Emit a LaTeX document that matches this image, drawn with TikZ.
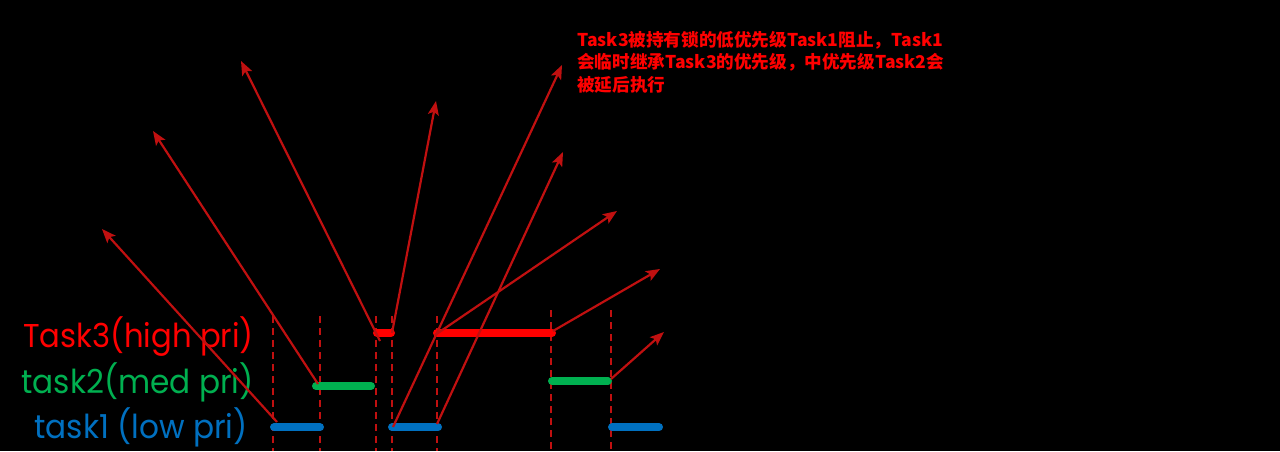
\documentclass[tikz,border=0pt]{standalone}
\usepackage{fontspec}
\setmainfont{Poppins}
\newfontfamily\cjk{Noto Sans CJK SC}
\usetikzlibrary{arrows.meta}
\definecolor{arrred}{RGB}{192,16,16}
\definecolor{barred}{RGB}{255,0,0}
\definecolor{bargreen}{RGB}{0,176,80}
\definecolor{barblue}{RGB}{0,112,192}
\tikzset{
  bar/.style={line width=8pt, line cap=round},
  guide/.style={draw=arrred, line width=1.4pt, dash pattern=on 7pt off 5pt},
  jump/.style={draw=arrred, line width=2.2pt, -{Stealth[length=14pt,width=11pt,inset=3pt]}},
  tasklabel/.style={anchor=base east, inner sep=0pt, font=\fontsize{33}{33}\selectfont},
  note/.style={anchor=north west, inner sep=0pt, align=left, text=barred,
    font=\cjk\bfseries\fontsize{17.6}{22.5}\selectfont}
}
\begin{document}
\begin{tikzpicture}[x=1pt,y=-1pt]
\fill[black] (0,0) rectangle (1280,451);

% labels
\node[tasklabel, text=barred] (l3) at (254,347) {\scalebox{0.93}[1]{Task3(high pri)}};
\node[tasklabel, text=bargreen] (l2) at (254,393) {\scalebox{0.945}[1]{task2(med pri)}};
\node[tasklabel, text=barblue] (l1) at (248,438) {\scalebox{0.945}[1]{task1 (low pri)}};

% dashed guides
\foreach \n/\x/\t in {d1/273/316, d2/320/316, d3/376/316, d4/392/316, d5/437/316, d6/551/310, d7/611/310}{
  \coordinate (\n t) at (\x,\t);
  \coordinate (\n b) at (\x,451);
  \draw[guide] (\n t) -- (\n b);
}

% bar end points
\coordinate (b1a) at (274,427.3); \coordinate (b1b) at (320,427.3);
\coordinate (b2a) at (392,427.3); \coordinate (b2b) at (438,427.3);
\coordinate (b3a) at (612,427.3); \coordinate (b3b) at (659,427.3);
\coordinate (g1a) at (316,386); \coordinate (g1b) at (371,386);
\coordinate (g2a) at (552,381); \coordinate (g2b) at (608,381);
\coordinate (r1a) at (377,333); \coordinate (r1b) at (391,333);
\coordinate (r2a) at (437,333); \coordinate (r2b) at (552,333);

\draw[bar, barblue] (b1a) -- (b1b);
\draw[bar, barblue] (b2a) -- (b2b);
\draw[bar, barblue] (b3a) -- (b3b);
\draw[bar, bargreen] (g1a) -- (g1b);
\draw[bar, bargreen] (g2a) -- (g2b);
\draw[bar, barred] (r1a) -- (r1b);
\draw[bar, barred] (r2a) -- (r2b);

% arrow start and tip points
\coordinate (s1) at (277,422);   \coordinate (t1) at (102,229);
\coordinate (s2) at (318,384);   \coordinate (t2) at (153,131);
\coordinate (s3) at (380,341);   \coordinate (t3) at (241,61);
\coordinate (s4) at (392,333);   \coordinate (t4) at (436,101);
\coordinate (s5) at (393,427);   \coordinate (t5) at (562,65);
\coordinate (s6) at (437,424);   \coordinate (t6) at (563,152);
\coordinate (s7) at (435,335);   \coordinate (t7) at (617,211);
\coordinate (s8) at (553,331);   \coordinate (t8) at (660,269);
\coordinate (s9) at (611,379);   \coordinate (t9) at (664,332);

\foreach \i in {1,...,9}{
  \draw[jump] (s\i) -- (t\i);
}

% note
\node[note] (note) at (577,31) {Task3被持有锁的低优先级Task1阻止，Task1\\会临时继承Task3的优先级，中优先级Task2会\\被延后执行};
\end{tikzpicture}
\end{document}
